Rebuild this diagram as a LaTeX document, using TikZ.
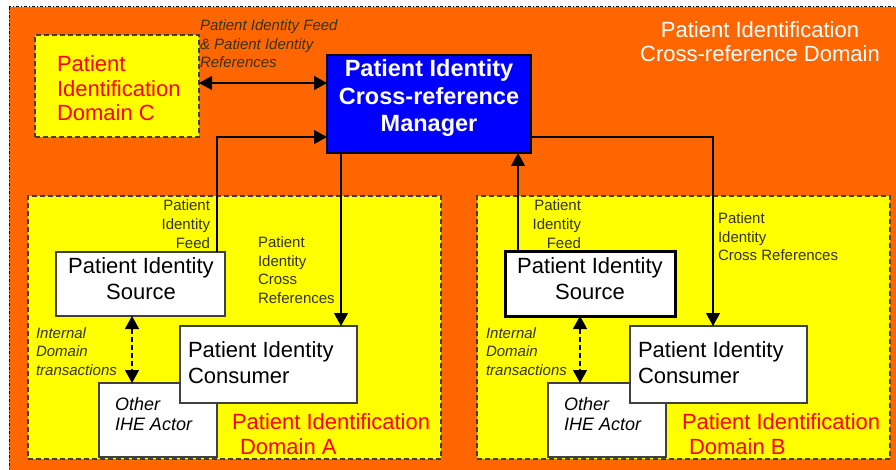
\documentclass[tikz,border=0pt]{standalone}
\usepackage{fontspec}
\setmainfont{Liberation Sans}
\usetikzlibrary{arrows.meta}
\definecolor{orng}{HTML}{FF6600}
\definecolor{ylw}{HTML}{FFFF00}
\definecolor{blu}{HTML}{0000FF}
\definecolor{redt}{HTML}{FF0000}
\definecolor{lbl}{HTML}{333319}
\definecolor{bord}{HTML}{404040}
\newcommand\ffbig{\fontsize{22}{24.5}\selectfont}
\newcommand\ffbox{\fontsize{22}{26}\selectfont}
\newcommand\ffmgr{\fontsize{23.5}{27.5}\selectfont\bfseries}
\newcommand\ffsm{\fontsize{15}{18.5}\selectfont}
\newcommand\ffmid{\fontsize{18}{20}\selectfont\itshape}
\begin{document}
\begin{tikzpicture}[x=1pt,y=-1pt,
 domainbox/.style={draw=bord, fill=ylw, line width=1.4pt, dash pattern=on 5pt off 3pt, anchor=north west, inner sep=0, outer sep=0},
 actor/.style={draw=bord, fill=white, line width=1.3pt, anchor=north west, inner sep=0, outer sep=0},
 arr/.style={line width=1.2pt, -{Triangle[length=13pt,width=14pt]}},
 biarr/.style={line width=1.2pt, {Triangle[length=13pt,width=14pt]}-{Triangle[length=13pt,width=14pt]}},
 darr/.style={line width=1.4pt, dash pattern=on 5pt off 3pt, {Triangle[length=13pt,width=14pt]}-{Triangle[length=13pt,width=14pt]}},
 txt/.style={inner sep=0, outer sep=0},
]
\useasboundingbox (0,0) rectangle (896,470);
\fill[white] (0,0) rectangle (896,470);
\filldraw[fill=orng, draw=black, line width=1pt, dash dot] (9,7) rectangle (905,480);

% domains
\node[domainbox, minimum width=164pt, minimum height=102pt] (DC) at (35,35) {};
\node[domainbox, minimum width=413pt, minimum height=263pt] (DA) at (28,196) {};
\node[domainbox, minimum width=413pt, minimum height=263pt] (DB) at (477,196) {};

% manager
\node[draw=black, fill=blu, line width=1.2pt, anchor=north west, inner sep=0, outer sep=0, minimum width=204pt, minimum height=98pt] (M) at (327,55) {};

% actors domain A
\node[actor, minimum width=169pt, minimum height=64pt] (SA) at (56,252) {};
\node[actor, minimum width=118pt, minimum height=74pt] (OA) at (99,383) {};
\node[actor, minimum width=177pt, minimum height=77pt] (CA) at (180,326) {};
% actors domain B
\node[actor, draw=black, line width=3pt, minimum width=170pt, minimum height=64pt] (SB) at (505,252) {};
\node[actor, minimum width=118pt, minimum height=74pt] (OB) at (548,383) {};
\node[actor, minimum width=177pt, minimum height=77pt] (CB) at (630,326) {};

% connectors
\draw[biarr] ([yshift=3pt]DC.east) -- ([yshift=3pt]DC.east -| M.west);
\draw[arr] ([xshift=-8pt]SA.north east) |- ([yshift=16pt]M.south west);
\draw[arr] ([xshift=14pt]M.south west) -- ([xshift=14pt]M.south west |- CA.north);
\draw[arr] ([yshift=16pt]M.south east) -| ([xshift=-5.5pt]CB.north);
\draw[arr] ([xshift=13pt]SB.north west) -- ([xshift=13pt]SB.north west |- M.south);
\draw[darr] ([xshift=-8.5pt]SA.south) -- ([xshift=-8.5pt]SA.south |- OA.north);
\draw[darr] ([xshift=-10pt]SB.south) -- ([xshift=-10pt]SB.south |- OB.north);

% texts (base anchor = baseline of the last line)
\node[txt, font=\ffbig, text=white, align=center, anchor=base] (Tdom) at (760,62) {Patient Identification\\Cross-reference Domain};
\node[txt, font=\ffbig, text=redt, align=left, anchor=base west] (DCt) at (57,121) {Patient\\Identification\\Domain C};
\node[txt, font=\ffsm\itshape, text=lbl, align=left, anchor=base west] (FRt) at (200,68) {Patient Identity Feed\\\& Patient Identity\\References};
\node[txt, font=\ffmgr, text=white, align=center, anchor=base] (Mt) at (429,132) {Patient Identity\\Cross-reference\\Manager};

\node[txt, font=\ffbox, align=center, anchor=base] (SAt) at (141,299) {Patient Identity\\Source};
\node[txt, font=\ffbox, align=left, anchor=base west] (CAt) at (188,383) {Patient Identity\\Consumer};
\node[txt, font=\ffmid, align=left, anchor=base west] (OAt) at (115,430) {Other\\IHE Actor};
\node[txt, font=\ffsm\itshape, text=lbl, align=left, anchor=base west] (IAt) at (36,375) {Internal\\Domain\\transactions};
\node[txt, font=\ffsm, text=lbl, align=right, anchor=base east] (FAt) at (210,248) {Patient\\Identity\\Feed};
\node[txt, font=\ffsm, text=lbl, align=left, anchor=base west] (XAt) at (258,303) {Patient\\Identity\\Cross\\References};
\node[txt, font=\ffbig, text=redt, align=left, anchor=base west] (DAt) at (232,454) {Patient Identification\\\hspace*{8pt}Domain A};

\node[txt, font=\ffbox, align=center, anchor=base] (SBt) at (590,299) {Patient Identity\\Source};
\node[txt, font=\ffbox, align=left, anchor=base west] (CBt) at (638,383) {Patient Identity\\Consumer};
\node[txt, font=\ffmid, align=left, anchor=base west] (OBt) at (564,430) {Other\\IHE Actor};
\node[txt, font=\ffsm\itshape, text=lbl, align=left, anchor=base west] (IBt) at (486,375) {Internal\\Domain\\transactions};
\node[txt, font=\ffsm, text=lbl, align=right, anchor=base east] (FBt) at (581,248) {Patient\\Identity\\Feed};
\node[txt, font=\ffsm, text=lbl, align=left, anchor=base west] (XBt) at (718,261) {Patient\\Identity\\Cross References};
\node[txt, font=\ffbig, text=redt, align=left, anchor=base west] (DBt) at (682,454) {Patient Identification\\\hspace*{7pt}Domain B};
\end{tikzpicture}
\end{document}
